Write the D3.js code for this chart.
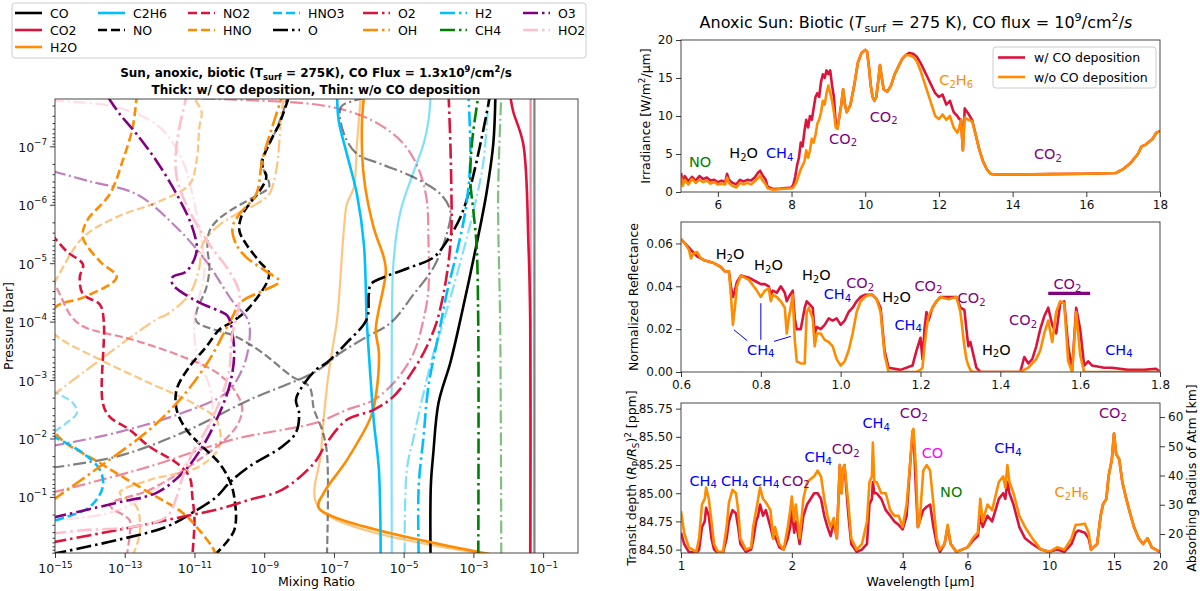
<!DOCTYPE html>
<html><head><meta charset="utf-8">
<script src="https://cdn.jsdelivr.net/npm/d3@7"></script>
<style>
body{margin:0;background:#fff}
svg text{font-family:"DejaVu Sans",sans-serif}
</style>
</head><body>
<svg id="c" width="1200" height="591" xmlns="http://www.w3.org/2000/svg"></svg>
<script>
// ===================== LEFT PANEL DATA: [log10 mixing ratio, log10 pressure (bar)] =====================
const speciesNames = ["CO","CO2","H2O","C2H6","NO","NO2","HNO","HNO3","O","O2","OH","H2","CH4","O3","HO2"];

const CO_w   = [[-4.23,0],[-4.22,-1.2],[-4.15,-1.75],[-4.0,-2.61],[-3.66,-3.3],[-3.37,-4.04],[-2.91,-5.32],[-2.63,-6.18],[-2.43,-7.04],[-2.37,-7.85]];
const CO_wo  = [[-1.25,0],[-1.25,-7.85]];
const CO2_w  = [[-1.37,0],[-1.37,-4.0],[-1.42,-5.3],[-1.57,-7.04],[-1.86,-7.6],[-1.94,-7.85]];
const CO2_wo = [[-1.36,0],[-1.36,-7.85]];
const H2O_w  = [[-2.34,0],[-7.43,-0.81],[-7.29,-1.07],[-6.63,-1.63],[-5.94,-2.37],[-5.8,-2.72],[-5.71,-3.47],[-5.8,-3.86],[-5.51,-4.86],[-5.57,-5.1],[-5.86,-5.61],[-6.14,-6.47],[-6.2,-7.33],[-6.14,-7.85]];
const H2O_wo = [[-2.34,0],[-7.43,-0.81],[-7.37,-1.76],[-7.2,-2.89],[-7.06,-3.47],[-6.91,-4.04],[-6.71,-5.61],[-6.63,-6.01],[-6.43,-6.3],[-6.34,-7.04],[-6.23,-7.85]];
const C2H6_w = [[-5.66,0],[-5.71,-1.46],[-5.86,-2.32],[-6.0,-3.47],[-6.06,-4.04],[-6.14,-5.32],[-6.34,-6.18],[-6.63,-6.87],[-6.86,-7.43],[-6.91,-7.85]];
const C2H6_wo= [[-5.34,0],[-5.34,-3.9],[-5.29,-5.03],[-5.09,-5.89],[-4.71,-6.57],[-4.43,-7.04],[-4.29,-7.43],[-4.23,-7.85]];
const NO_w   = [[-10.43,0],[-9.86,-0.43],[-9.86,-1.0],[-10.0,-1.29],[-10.29,-1.58],[-10.77,-1.86],[-11.23,-2.15],[-11.51,-2.49],[-11.51,-2.84],[-11.14,-3.23],[-10.66,-3.57],[-10.29,-3.86],[-9.91,-4.0],[-9.43,-4.24],[-8.86,-4.81],[-9.14,-5.03],[-9.51,-5.32],[-9.71,-5.55],[-9.66,-5.79],[-9.43,-6.01],[-9.14,-6.23],[-8.94,-6.47],[-9.06,-6.7],[-8.86,-7.04],[-8.57,-7.38],[-8.29,-7.85]];
const NO_wo  = [[-7.2,0],[-7.2,-1.75],[-7.34,-2.15],[-7.57,-2.49],[-7.71,-2.89],[-8.2,-3.06],[-9.06,-3.47],[-9.8,-3.74],[-10.94,-4.0],[-10.94,-4.17],[-10.66,-4.58],[-10.57,-4.93],[-10.63,-5.27],[-10.57,-5.55],[-10.37,-5.72],[-10.0,-5.89],[-9.51,-6.06],[-9.14,-6.18],[-8.86,-6.3],[-8.94,-6.52],[-9.09,-6.7],[-8.71,-7.21],[-8.43,-7.64],[-8.34,-7.85]];
const NO2_w  = [[-15.1,-5.5],[-14.66,-5.2],[-14.2,-4.98],[-14.29,-4.76],[-14.2,-4.47],[-13.71,-4.29],[-13.6,-4.0],[-13.63,-2.61],[-13.43,-2.37],[-12.86,-2.15],[-12.29,-1.86],[-11.51,-1.58],[-11.14,-1.34],[-11.06,-1.0],[-11.0,-0.61],[-11.06,0]];
const NO2_wo = [[-15.1,-4.75],[-14.86,-4.47],[-14.57,-4.12],[-14.2,-3.92],[-12.77,-3.69],[-11.34,-3.4],[-10.37,-3.13],[-9.8,-2.78],[-9.63,-2.49],[-9.86,-2.15],[-10.86,-1.64],[-12.29,-1.12],[-13.43,-0.86],[-12.86,-0.6],[-12.86,-0.35],[-12.94,0]];
const HNO_w  = [[-10.37,0],[-10.49,-0.14],[-10.86,-0.43],[-11.34,-0.73],[-12.29,-1.07],[-13.71,-1.58],[-15.0,-2.1],[-15.6,-3.2],[-15.0,-4.24],[-14.2,-4.41],[-13.23,-4.76],[-13.71,-5.03],[-14.2,-5.44],[-14.09,-5.72],[-13.43,-6.18],[-13.06,-6.75],[-12.77,-7.33],[-12.66,-7.85]];
const HNO_wo = [[-12.77,0],[-12.57,-0.38],[-12.66,-0.83],[-13.14,-1.07],[-12.29,-1.29],[-10.86,-1.52],[-10.29,-1.86],[-10.37,-2.32],[-11.06,-2.61],[-12.29,-2.95],[-13.71,-3.35],[-15.0,-3.78],[-15.5,-4.2],[-15.0,-4.69],[-14.2,-5.44],[-13.23,-5.79],[-12.0,-6.06],[-11.14,-6.35],[-10.94,-6.75],[-10.86,-7.33],[-10.8,-7.6],[-11.06,-7.85]];
const HNO3_w = [[-15.1,-2.05],[-14.2,-1.75],[-13.71,-1.46],[-13.63,-1.17],[-14.0,-0.83],[-14.66,-0.66],[-15.1,-0.58]];
const HNO3_wo= [[-15.1,-2.82],[-14.49,-2.61],[-14.37,-2.44],[-14.66,-2.27],[-15.1,-2.08]];
const O_w    = [[-15.1,-0.02],[-13.23,-0.26],[-11.8,-0.49],[-11.06,-0.73],[-10.37,-1.0],[-10.0,-1.24],[-9.43,-1.52],[-8.49,-1.86],[-8.09,-2.1],[-8.0,-2.44],[-8.09,-2.66],[-7.91,-2.89],[-7.51,-3.18],[-7.2,-3.3],[-6.63,-3.64],[-6.06,-4.04],[-6.0,-4.47],[-5.94,-4.64],[-5.57,-4.76],[-4.8,-4.93],[-4.14,-5.1],[-3.77,-5.37],[-3.37,-5.79],[-3.09,-6.3],[-2.8,-7.04],[-2.57,-7.72],[-2.53,-7.85]];
const O_wo   = [[-15.1,-1.5],[-13.23,-1.69],[-11.34,-2.1],[-9.43,-2.66],[-7.51,-3.15],[-6.8,-3.47],[-6.06,-3.74],[-5.37,-3.98],[-4.71,-4.47],[-4.14,-4.93],[-3.77,-5.49],[-3.66,-5.89],[-3.94,-6.18],[-4.71,-6.47],[-5.66,-6.7],[-6.34,-6.87],[-6.71,-7.21],[-6.8,-7.67],[-6.43,-7.78],[-6.0,-7.85]];
const O2_w   = [[-15.1,-0.22],[-13.23,-0.43],[-11.34,-0.66],[-10.37,-0.78],[-9.43,-0.95],[-8.49,-1.12],[-7.57,-1.58],[-7.2,-1.93],[-6.63,-2.32],[-5.86,-2.49],[-5.29,-2.72],[-4.71,-3.18],[-4.34,-3.57],[-4.06,-3.98],[-3.86,-4.47],[-3.71,-5.03],[-3.63,-5.61],[-3.63,-6.18],[-3.66,-7.04],[-3.71,-7.85]];
const O2_wo  = [[-15.1,-1.07],[-12.29,-1.52],[-9.91,-1.98],[-7.51,-2.27],[-6.63,-2.49],[-5.86,-2.66],[-5.2,-3.01],[-4.71,-3.47],[-4.43,-4.04],[-4.29,-4.55],[-4.29,-5.41],[-4.34,-6.09],[-4.57,-6.61],[-5.0,-7.04],[-5.71,-7.38],[-6.57,-7.6],[-7.57,-7.72],[-9.43,-7.79],[-10.37,-7.81],[-11.0,-7.82]];
const OH_w   = [[-15.1,-0.93],[-13.71,-1.52],[-12.29,-2.15],[-11.34,-2.72],[-10.57,-3.35],[-10.0,-3.98],[-9.63,-4.35],[-9.06,-4.52],[-8.57,-4.69],[-8.94,-4.86],[-9.51,-5.1],[-9.8,-5.32],[-9.91,-5.61],[-9.71,-5.84],[-9.23,-6.18],[-9.06,-6.75],[-8.77,-7.33],[-8.49,-7.85]];
const OH_wo  = [[-15.1,-2.72],[-12.09,-4.04],[-11.8,-4.12],[-11.14,-4.47],[-10.86,-4.93],[-10.77,-5.32],[-10.37,-5.61],[-9.8,-5.84],[-9.23,-6.01],[-8.86,-6.18],[-8.66,-6.57],[-8.57,-7.04],[-8.51,-7.55],[-8.43,-7.85]];
const H2_w   = [[-4.57,0],[-4.57,-1.17],[-4.43,-2.03],[-4.29,-2.89],[-3.94,-3.95],[-3.77,-4.47],[-3.49,-5.15],[-3.23,-5.89],[-3.09,-6.75],[-3.14,-7.85]];
const H2_wo  = [[-4.97,0],[-4.91,-1.46],[-4.71,-2.03],[-4.43,-2.78],[-4.14,-3.47],[-3.86,-4.0],[-3.37,-5.03],[-3.0,-5.89],[-2.71,-6.75],[-2.57,-7.85]];
const CH4_w  = [[-2.86,0],[-2.86,-3.9],[-2.91,-5.32],[-3.0,-5.89],[-3.09,-6.44],[-3.03,-7.12],[-2.86,-7.85]];
const CH4_wo = [[-2.2,0],[-2.23,-3.86],[-2.29,-6.18],[-2.2,-7.85]];
const O3_w   = [[-15.1,-0.64],[-13.23,-0.9],[-12.09,-1.07],[-11.34,-1.41],[-10.77,-1.86],[-10.37,-2.32],[-10.0,-2.89],[-9.86,-3.47],[-10.0,-4.04],[-10.09,-4.12],[-10.94,-4.35],[-11.63,-4.64],[-11.63,-4.76],[-11.23,-4.86],[-10.94,-5.2],[-11.06,-5.61],[-11.51,-6.18],[-12.09,-6.75],[-12.66,-7.21],[-13.14,-7.55],[-13.49,-7.85]];
const O3_wo  = [[-15.1,-1.87],[-13.23,-2.1],[-11.34,-2.44],[-10.09,-2.78],[-9.63,-3.18],[-9.43,-3.64],[-9.46,-4.02],[-9.91,-4.35],[-10.66,-5.03],[-11.51,-5.61],[-12.66,-6.18],[-14.0,-6.4],[-15.1,-6.58]];
const HO2_w  = [[-15.1,-0.37],[-14.2,-0.43],[-12.77,-0.49],[-11.8,-0.66],[-11.51,-1.0],[-11.34,-1.34],[-11.06,-1.75],[-10.66,-2.15],[-10.29,-2.61],[-10.0,-3.18],[-9.94,-3.69],[-9.71,-4.47],[-10.0,-4.86],[-10.57,-5.32],[-11.14,-5.89],[-11.51,-6.47],[-11.51,-7.04],[-11.23,-7.85]];
const HO2_wo = [[-15.1,-7.78],[-13.23,-7.67],[-12.0,-7.33],[-11.34,-6.75],[-11.06,-6.18],[-10.86,-5.58],[-10.71,-4.9],[-11.0,-4.04],[-10.94,-3.47],[-10.57,-2.89],[-10.49,-2.44],[-10.86,-1.86],[-11.43,-1.46],[-13.14,-0.78],[-15.1,-0.6]];

const profilesWith    = [CO_w,CO2_w,H2O_w,C2H6_w,NO_w,NO2_w,HNO_w,HNO3_w,O_w,O2_w,OH_w,H2_w,CH4_w,O3_w,HO2_w];
const profilesWithout = [CO_wo,CO2_wo,H2O_wo,C2H6_wo,NO_wo,NO2_wo,HNO_wo,HNO3_wo,O_wo,O2_wo,OH_wo,H2_wo,CH4_wo,O3_wo,HO2_wo];
const mixTickExp = [-15,-13,-11,-9,-7,-5,-3,-1];
const presTickExp = [-7,-6,-5,-4,-3,-2,-1];

// ===================== RIGHT PANEL DATA =====================
// Irradiance: [wavelength um, w/ CO deposition, w/o CO deposition]
const irrWl   = [5.0,5.05,5.1,5.2,5.3,5.4,5.5,5.6,5.7,5.8,5.9,6.0,6.1,6.2,6.25,6.3,6.4,6.5,6.6,6.7,6.8,6.9,7.0,7.1,7.15,7.2,7.3,7.35,7.5,7.7,8.0,8.05,8.1,8.15,8.2,8.25,8.3,8.35,8.4,8.45,8.5,8.55,8.6,8.65,8.7,8.75,8.8,8.85,8.9,8.95,9.0,9.05,9.1,9.15,9.2,9.25,9.3,9.35,9.4,9.45,9.5,9.6,9.7,9.8,9.9,10.0,10.05,10.1,10.15,10.2,10.25,10.3,10.35,10.4,10.45,10.5,10.6,10.7,10.8,10.9,11.0,11.1,11.2,11.3,11.4,11.5,11.6,11.7,11.8,11.9,12.0,12.1,12.2,12.3,12.4,12.5,12.55,12.6,12.65,12.7,12.8,12.9,13.0,13.1,13.2,13.3,13.4,13.5,14.0,15.0,16.0,16.8,17.0,17.2,17.4,17.5,17.6,17.8,17.9,18.0];
const irrWith = [2.5,1.2,2.1,1.4,2.0,1.5,2.1,1.7,1.9,1.5,1.6,1.3,1.5,1.3,2.4,1.6,1.2,1.0,1.6,1.4,1.6,1.5,1.9,2.6,2.8,2.3,1.6,0.7,0.4,0.45,0.6,1.0,2.0,3.5,4.5,6.5,6.0,8.0,9.5,8.5,10.0,9.5,11.0,12.5,13.0,12.5,14.5,15.5,15.0,16.0,15.5,16.0,14.0,12.5,9.0,8.5,10.0,11.5,13.5,11.5,10.5,11.5,14.0,17.0,18.3,18.7,18.5,16.5,14.0,12.5,12.0,12.5,14.5,16.7,15.0,13.5,13.2,14.0,15.5,16.5,17.5,18.0,18.3,18.2,17.8,17.0,16.0,15.0,14.0,13.0,12.5,12.8,11.5,12.0,10.5,10.0,9.6,9.5,5.5,11.0,10.3,9.5,7.5,5.5,4.0,3.0,2.4,2.3,2.3,2.35,2.4,2.5,3.0,3.8,5.0,6.0,6.2,7.0,7.8,8.0];
const irrWithout = [2.0,0.8,1.6,1.0,1.7,1.2,1.6,1.3,1.5,1.1,1.3,1.0,1.1,1.0,1.9,1.2,0.8,0.6,1.2,1.0,1.2,1.0,1.4,1.9,2.2,1.6,1.0,0.5,0.3,0.4,0.5,0.6,1.0,1.5,2.3,3.0,3.5,4.0,5.5,4.5,5.5,7.0,6.5,7.5,9.0,9.5,10.5,12.0,11.5,13.0,14.0,13.0,12.0,10.5,8.5,8.3,10.0,11.5,13.5,11.5,10.5,11.5,14.0,17.0,18.3,18.7,18.5,16.5,14.0,12.5,12.0,12.5,14.5,16.7,15.0,13.5,13.2,14.0,15.5,16.5,17.5,18.0,18.0,17.8,17.2,16.0,14.5,13.0,11.5,10.0,9.6,10.2,9.5,10.0,8.5,7.8,8.5,9.5,5.5,9.8,9.5,9.3,7.5,5.5,4.0,3.0,2.4,2.3,2.3,2.35,2.4,2.5,3.0,3.8,5.0,6.0,6.2,7.0,7.8,8.0];

// Reflectance
const refWl = [0.600,0.610,0.620,0.625,0.630,0.640,0.650,0.660,0.680,0.700,0.710,0.720,0.725,0.730,0.735,0.740,0.750,0.770,0.790,0.800,0.810,0.820,0.825,0.830,0.840,0.850,0.860,0.865,0.870,0.880,0.885,0.890,0.900,0.910,0.915,0.920,0.930,0.935,0.940,0.950,0.960,0.970,0.980,0.990,1.000,1.010,1.020,1.030,1.040,1.050,1.060,1.070,1.080,1.090,1.100,1.105,1.110,1.120,1.150,1.180,1.190,1.200,1.205,1.210,1.215,1.220,1.230,1.240,1.250,1.270,1.290,1.300,1.310,1.315,1.320,1.325,1.330,1.340,1.350,1.450,1.460,1.470,1.480,1.490,1.500,1.510,1.520,1.530,1.540,1.550,1.560,1.570,1.580,1.590,1.600,1.610,1.620,1.630,1.660,1.680,1.720,1.760,1.790,1.800];
const refWith = [.062,.060,.058,.057,.056,.054,.053,.052,.051,.049,.047,.047,.040,.035,.038,.042,.045,.044,.042,.041,.041,.040,.036,.038,.037,.040,.037,.033,.035,.038,.025,.020,.020,.030,.033,.032,.030,.018,.021,.020,.022,.025,.024,.025,.022,.024,.028,.030,.033,.035,.036,.036,.036,.034,.030,.020,.010,.002,.001,.003,.010,.016,.006,.020,.028,.024,.030,.033,.035,.035,.035,.030,.029,.020,.012,.014,.010,.002,.000,.000,.007,.004,.006,.012,.020,.026,.030,.022,.018,.032,.033,.012,.001,.030,.020,.003,.005,.003,.002,.002,.001,.001,.0015,.000];
const refWithout = [.062,.060,.057,.053,.055,.056,.053,.052,.051,.049,.047,.047,.036,.022,.030,.040,.045,.043,.038,.035,.038,.039,.033,.036,.035,.033,.030,.018,.025,.036,.015,.005,.004,.004,.028,.030,.025,.012,.018,.018,.015,.014,.012,.006,.003,.005,.010,.018,.028,.033,.035,.036,.036,.034,.028,.018,.008,.000,.000,.000,.000,.001,.002,.012,.020,.026,.030,.033,.035,.034,.035,.028,.012,.006,.003,.001,.000,.000,.000,.000,.001,.002,.004,.006,.010,.018,.024,.014,.028,.033,.032,.005,.000,.028,.008,.000,.000,.000,.000,.000,.000,.000,.000,.000];

// Transit depth (ppm)
const trWl = [1.00,1.02,1.05,1.10,1.12,1.14,1.16,1.17,1.19,1.21,1.23,1.26,1.30,1.33,1.35,1.38,1.41,1.43,1.45,1.50,1.55,1.57,1.60,1.62,1.64,1.67,1.70,1.75,1.78,1.80,1.85,1.90,1.95,1.98,2.00,2.03,2.05,2.10,2.15,2.20,2.30,2.35,2.40,2.45,2.50,2.55,2.60,2.65,2.70,2.73,2.75,2.78,2.85,2.90,3.00,3.10,3.20,3.25,3.30,3.32,3.35,3.40,3.50,3.60,3.70,3.80,3.90,4.00,4.10,4.20,4.25,4.28,4.35,4.40,4.45,4.55,4.65,4.75,4.85,4.95,5.05,5.20,5.30,5.40,5.60,6.00,6.20,6.40,6.50,6.60,6.80,7.00,7.30,7.50,7.60,7.70,7.80,8.00,8.30,8.60,9.00,9.50,10.0,10.5,11.0,11.5,11.8,12.0,12.5,12.8,13.0,13.5,13.8,14.0,14.3,14.5,14.8,15.0,15.2,15.5,15.8,16.2,16.5,17.0,17.5,18.0,18.5,19.0,20.0];
const trWith = [84.65,84.55,84.48,84.47,84.50,84.70,84.75,84.87,84.80,84.60,84.50,84.47,84.47,84.60,84.75,84.85,84.82,84.70,84.55,84.48,84.50,84.58,84.75,84.80,84.90,84.80,84.85,84.70,84.60,84.62,84.52,84.50,84.60,84.70,84.85,84.65,84.75,84.55,84.80,84.90,85.00,85.00,84.95,84.80,84.70,84.62,84.75,84.60,85.25,85.00,85.20,85.25,84.80,84.55,84.48,84.50,84.55,84.90,84.95,85.10,85.00,85.00,84.95,84.85,84.80,84.75,84.72,84.68,84.80,85.30,85.50,85.55,85.00,84.70,84.75,84.85,84.88,84.90,84.70,84.55,84.48,84.55,84.70,84.55,84.48,84.52,84.58,84.62,84.80,84.70,84.80,84.75,84.95,85.00,84.95,85.10,85.00,84.90,84.70,84.60,84.55,84.50,84.48,84.50,84.48,84.55,84.65,84.67,84.65,84.60,84.50,84.55,84.80,84.90,84.95,85.15,85.30,85.53,85.35,85.30,85.10,84.95,84.85,84.70,84.60,84.55,84.60,84.52,84.48];
const trWithout = [84.84,84.65,84.52,84.48,84.60,84.90,84.95,85.05,84.95,84.75,84.55,84.48,84.48,84.70,84.92,85.03,85.00,84.85,84.60,84.50,84.52,84.70,84.85,84.95,85.05,84.95,84.92,84.85,84.60,84.70,84.55,84.50,84.70,84.85,84.97,84.75,84.90,84.60,84.95,85.10,85.15,85.20,85.15,84.95,84.80,84.70,84.78,84.60,85.25,85.00,85.20,85.25,84.90,84.60,84.50,84.55,84.75,85.10,85.15,85.45,85.10,85.10,85.00,85.00,84.85,84.80,84.80,84.70,84.90,85.30,85.55,85.57,85.20,84.70,84.75,85.20,85.25,85.20,84.90,84.60,84.50,84.55,84.72,84.55,84.48,84.52,84.60,84.65,84.95,84.75,84.90,84.85,85.10,85.15,85.05,85.25,85.10,85.00,84.80,84.70,84.60,84.50,84.48,84.52,84.50,84.60,84.72,84.72,84.73,84.65,84.50,84.55,84.80,84.90,84.95,85.15,85.30,85.53,85.35,85.30,85.10,84.95,84.85,84.70,84.60,84.55,84.60,84.52,84.48];

// annotations: [text, x, y]
const irrNotes = [["NO",5.52,3.95],["H_2O",6.7,5.1],["CH_4",7.68,5.1],["CO_2",9.4,7.0],["CO_2",10.5,9.9],["C_2H_6",12.47,14.7],["CO_2",14.96,5.0]];
const irrNoteColors = ["green","black","blue","purple","purple","darkorange","purple"];
const refNotes = [["H_2O",0.723,0.0549],["H_2O",0.819,0.0499],["H_2O",0.939,0.0453],["CH_4",0.992,0.0363],["CO_2",1.049,0.0414],["H_2O",1.14,0.0352],["CO_2",1.22,0.0403],["CO_2",1.328,0.0344],["CH_4",1.169,0.022],["CH_4",0.80,0.0104],["H_2O",1.39,0.0104],["CO_2",1.457,0.0243],["CO_2",1.568,0.041],["CH_4",1.697,0.0104]];
const refNoteColors = ["black","black","black","blue","purple","black","purple","purple","blue","blue","black","purple","purple","blue"];
const refConnectors = [[[0.766,0.0146],[0.7325,0.0197]],[[0.8,0.0150],[0.8,0.0321]],[[0.833,0.0143],[0.875,0.0166]]];
const refBar = [[1.52,0.0367],[1.625,0.0367]];
const trNotes = [["CH_4",1.149,85.11],["CH_4",1.399,85.11],["CH_4",1.699,85.11],["CO_2",2.05,85.11],["CH_4",2.36,85.32],["CO_2",2.80,85.39],["CH_4",3.39,85.62],["CO_2",4.29,85.71],["CO",4.82,85.36],["NO",5.42,85.01],["CH_4",7.73,85.40],["C_2H_6",11.5,85.01],["CO_2",14.9,85.71]];
const trNoteColors = ["blue","blue","blue","purple","blue","purple","blue","purple","magenta","green","blue","darkorange","purple"];

// ===================== STYLE =====================
const speciesColors = ["black","crimson","darkorange","deepskyblue","black","crimson","darkorange","deepskyblue","black","crimson","darkorange","deepskyblue","green","purple","pink"];
const speciesDash = ["s","s","s","s","d","d","d","d","dd","dd","dd","dd","dd","dd","dd"];
const dashThick = {s:null,d:"9,4",dd:"15,4,2.5,4"};
const dashThin = {s:null,d:"8,3.5",dd:"13,3.5,2,3.5"};

const svg = d3.select("#c");
const F = "DejaVu Sans, sans-serif";

function rich(t, str, fs) {
  const re = /\*\{([^}]*)\}|([_^])\{([^}]*)\}|([_^])(.)|([^_^*]+)/g;
  let m, cur = 0;
  while ((m = re.exec(str)) !== null) {
    let txt, target = 0, size = fs, ital = false;
    if (m[1] !== undefined) { txt = m[1]; ital = true; }
    else if (m[2]) { txt = m[3]; target = m[2] === "_" ? 0.25*fs : -0.42*fs; size = 0.7*fs; }
    else if (m[4]) { txt = m[5]; target = m[4] === "_" ? 0.25*fs : -0.42*fs; size = 0.7*fs; }
    else txt = m[6];
    const ts = t.append("tspan").text(txt).attr("font-size", size);
    const d = target - cur;
    if (Math.abs(d) > 1e-6) ts.attr("dy", d.toFixed(2));
    if (ital) ts.attr("font-style", "italic");
    cur = target;
  }
}
function label(g, str, x, y, fs, opts = {}) {
  const t = g.append("text").attr("x", x).attr("y", y).attr("font-size", fs)
    .attr("text-anchor", opts.anchor || "middle").attr("fill", opts.fill || "black");
  if (opts.bold) t.attr("font-weight", "bold");
  if (opts.rotate) t.attr("transform", `rotate(${opts.rotate},${x},${y})`);
  if (opts.central) t.attr("dominant-baseline", "central");
  rich(t, str, fs);
  return t;
}
function styleAxis(g, fs) {
  g.attr("font-family", F).attr("font-size", fs);
  g.select(".domain").remove();
  g.selectAll(".tick line").attr("stroke", "#222").attr("stroke-width", 0.9);
  g.selectAll(".tick text").attr("fill", "#111");
}
function frame(x0, x1, y0, y1) {
  svg.append("rect").attr("x", x0).attr("y", y0).attr("width", x1 - x0).attr("height", y1 - y0)
    .attr("fill", "none").attr("stroke", "#333").attr("stroke-width", 0.9);
}
function clip(id, x0, x1, y0, y1) {
  svg.append("clipPath").attr("id", id).append("rect").attr("x", x0).attr("y", y0).attr("width", x1 - x0).attr("height", y1 - y0);
}

// ===================== LEFT PANEL =====================
{
  const L = {x0: 55, x1: 578, y0: 99, y1: 553};
  const x = d3.scaleLog().domain([1e-15, 1]).range([L.x0, L.x1]);
  const y = d3.scaleLog().domain([Math.pow(10, -7.81), Math.pow(10, -0.04)]).range([L.y0, L.y1]);
  clip("clipL", L.x0, L.x1, L.y0, L.y1);
  const line = d3.line().x(d => x(Math.pow(10, d[0]))).y(d => y(Math.pow(10, d[1]))).curve(d3.curveCatmullRom.alpha(0.5));
  const gl = svg.append("g").attr("clip-path", "url(#clipL)");
  profilesWithout.forEach((p, i) => {
    gl.append("path").attr("d", line(p)).attr("fill", "none").attr("stroke", speciesColors[i])
      .attr("stroke-opacity", 0.5).attr("stroke-width", 2.2)
      .attr("stroke-dasharray", dashThin[speciesDash[i]]);
  });
  profilesWith.forEach((p, i) => {
    gl.append("path").attr("d", line(p)).attr("fill", "none").attr("stroke", speciesColors[i])
      .attr("stroke-width", 2.6).attr("stroke-dasharray", dashThick[speciesDash[i]]);
  });
  frame(L.x0, L.x1, L.y0, L.y1);
  const ax = svg.append("g").attr("transform", `translate(0,${L.y1})`)
    .call(d3.axisBottom(x).tickValues(mixTickExp.map(e => Math.pow(10, e))).tickSize(5).tickSizeOuter(0));
  styleAxis(ax, 12.5);
  ax.selectAll(".tick text").each(function(d) {
    const t = d3.select(this).text("").attr("dy", null).attr("y", 20); rich(t, "10^{\u2212" + Math.round(-Math.log10(d)) + "}", 12.5);
  });
  // minor y ticks
  const minorY = [];
  for (let e = -8; e <= -1; e++) for (let k = 2; k <= 9; k++) { const v = k * Math.pow(10, e); if (v > y.domain()[0] && v < y.domain()[1]) minorY.push(v); }
  const aym = svg.append("g").attr("transform", `translate(${L.x0},0)`)
    .call(d3.axisLeft(y).tickValues(minorY).tickSize(2.5).tickFormat(""));
  styleAxis(aym, 12);
  const ay = svg.append("g").attr("transform", `translate(${L.x0},0)`)
    .call(d3.axisLeft(y).tickValues(presTickExp.map(e => Math.pow(10, e))).tickSize(5).tickSizeOuter(0));
  styleAxis(ay, 12.5);
  ay.selectAll(".tick text").each(function(d) {
    const t = d3.select(this).text("").attr("dy", null).attr("dominant-baseline", "central"); rich(t, "10^{\u2212" + Math.round(-Math.log10(d)) + "}", 12.5);
  });
  label(svg, "Mixing Ratio", (L.x0 + L.x1) / 2, 586, 12.5);
  label(svg, "Pressure [bar]", 13, (L.y0 + L.y1) / 2, 12.5, {rotate: -90});
  label(svg, "Sun, anoxic, biotic (T_{surf} = 275K), CO Flux = 1.3x10^9/cm^2/s", 316, 77, 12, {bold: true});
  label(svg, "Thick: w/ CO deposition, Thin: w/o CO deposition", 316, 94, 12, {bold: true});

  // legend
  svg.append("rect").attr("x", 12).attr("y", 3).attr("width", 574).attr("height", 55).attr("rx", 3)
    .attr("fill", "white").attr("stroke", "#ccc").attr("stroke-width", 1);
  const colX = [15, 98, 188, 273, 363, 440, 523];
  const rowY = [13, 30, 47];
  let idx = 0;
  const perCol = [3, 2, 2, 2, 2, 2, 2];
  perCol.forEach((n, c) => {
    for (let r = 0; r < n; r++) {
      const i = idx++;
      svg.append("line").attr("x1", colX[c]).attr("x2", colX[c] + 27).attr("y1", rowY[r]).attr("y2", rowY[r])
        .attr("stroke", speciesColors[i]).attr("stroke-width", 2.6).attr("stroke-dasharray", dashThick[speciesDash[i]]);
      svg.append("text").attr("x", colX[c] + 35).attr("y", rowY[r]).attr("dominant-baseline", "central")
        .attr("font-size", 12.5).text(speciesNames[i]);
    }
  });
}

// ===================== RIGHT PANELS =====================
const RX0 = 681, RX1 = 1160;
function seriesPath(g, xs, ys, xS, yS, color) {
  const ln = d3.line().x((d, i) => xS(xs[i])).y(d => yS(d));
  g.append("path").attr("d", ln(ys)).attr("fill", "none").attr("stroke", color).attr("stroke-width", 2.6).attr("stroke-linejoin", "round");
}
function notes(g, arr, colors, xS, yS, fs) {
  arr.forEach((n, i) => label(g, n[0], xS(n[1]), yS(n[2]), fs, {fill: colors[i], central: true}));
}

// --- top: irradiance ---
{
  const T = {y0: 40, y1: 192};
  const x = d3.scaleLinear().domain([5, 18]).range([RX0, RX1]);
  const y = d3.scaleLinear().domain([0, 20]).range([T.y1, T.y0]);
  clip("clipT", RX0, RX1, T.y0, T.y1);
  const g = svg.append("g").attr("clip-path", "url(#clipT)");
  seriesPath(g, irrWl, irrWith, x, y, "crimson");
  seriesPath(g, irrWl, irrWithout, x, y, "darkorange");
  frame(RX0, RX1, T.y0, T.y1);
  const ax = svg.append("g").attr("transform", `translate(0,${T.y1})`).call(d3.axisBottom(x).tickValues([6,8,10,12,14,16,18]).tickSize(5).tickSizeOuter(0));
  styleAxis(ax, 12);
  const ay = svg.append("g").attr("transform", `translate(${RX0},0)`).call(d3.axisLeft(y).tickValues([0,5,10,15,20]).tickSize(5).tickSizeOuter(0));
  styleAxis(ay, 12);
  notes(svg, irrNotes, irrNoteColors, x, y, 14.5);
  label(svg, "Irradiance [W/m^2/\u03bcm]", 650, (T.y0 + T.y1) / 2, 12.5, {rotate: -90});
  label(svg, "Anoxic Sun: Biotic (*{T}_{surf} = 275 K), CO flux = 10^9/cm^2/*{s}", 916, 28, 16);
  // legend
  svg.append("rect").attr("x", 993).attr("y", 47).attr("width", 163).attr("height", 41).attr("rx", 3)
    .attr("fill", "white").attr("fill-opacity", 0.85).attr("stroke", "#ccc");
  [["w/ CO deposition", "crimson", 57.5], ["w/o CO deposition", "darkorange", 77]].forEach(e => {
    svg.append("line").attr("x1", 998).attr("x2", 1025).attr("y1", e[2]).attr("y2", e[2]).attr("stroke", e[1]).attr("stroke-width", 2.6);
    svg.append("text").attr("x", 1034).attr("y", e[2]).attr("dominant-baseline", "central").attr("font-size", 12.5).text(e[0]);
  });
}

// --- middle: reflectance ---
{
  const M = {y0: 222, y1: 372};
  const x = d3.scaleLinear().domain([0.6, 1.8]).range([RX0, RX1]);
  const y = d3.scaleLinear().domain([0, 0.07]).range([M.y1, M.y0]);
  clip("clipM", RX0, RX1, M.y0, M.y1);
  const g = svg.append("g").attr("clip-path", "url(#clipM)");
  seriesPath(g, refWl, refWith, x, y, "crimson");
  seriesPath(g, refWl, refWithout, x, y, "darkorange");
  frame(RX0, RX1, M.y0, M.y1);
  const ax = svg.append("g").attr("transform", `translate(0,${M.y1})`).call(d3.axisBottom(x).tickValues([0.6,0.8,1.0,1.2,1.4,1.6,1.8]).tickFormat(d3.format(".1f")).tickSize(5).tickSizeOuter(0));
  styleAxis(ax, 12);
  const ay = svg.append("g").attr("transform", `translate(${RX0},0)`).call(d3.axisLeft(y).tickValues([0,0.02,0.04,0.06]).tickFormat(d3.format(".2f")).tickSize(5).tickSizeOuter(0));
  styleAxis(ay, 12);
  refConnectors.forEach(c => svg.append("line").attr("x1", x(c[0][0])).attr("y1", y(c[0][1])).attr("x2", x(c[1][0])).attr("y2", y(c[1][1])).attr("stroke", "blue").attr("stroke-width", 1));
  svg.append("line").attr("x1", x(refBar[0][0])).attr("y1", y(refBar[0][1])).attr("x2", x(refBar[1][0])).attr("y2", y(refBar[1][1])).attr("stroke", "purple").attr("stroke-width", 3.2);
  notes(svg, refNotes, refNoteColors, x, y, 14.5);
  label(svg, "Normalized Reflectance", 638, (M.y0 + M.y1) / 2, 12.5, {rotate: -90});
}

// --- bottom: transit ---
{
  const B = {y0: 403, y1: 553};
  const x = d3.scaleLog().domain([1, 20]).range([RX0, RX1]);
  const y = d3.scaleLinear().domain([84.47, 85.8]).range([B.y1, B.y0]);
  const yR = d3.scaleLinear().domain([13.5, 64.8]).range([B.y1, B.y0]);
  clip("clipB", RX0, RX1, B.y0, B.y1);
  const g = svg.append("g").attr("clip-path", "url(#clipB)");
  seriesPath(g, trWl, trWith, x, y, "crimson");
  seriesPath(g, trWl, trWithout, x, y, "darkorange");
  frame(RX0, RX1, B.y0, B.y1);
  const ax = svg.append("g").attr("transform", `translate(0,${B.y1})`).call(d3.axisBottom(x).tickValues([1,2,4,6,10,15,20]).tickFormat(d3.format("d")).tickSize(5).tickSizeOuter(0));
  styleAxis(ax, 12);
  const ay = svg.append("g").attr("transform", `translate(${RX0},0)`).call(d3.axisLeft(y).tickValues([84.5,84.75,85,85.25,85.5,85.75]).tickFormat(d3.format(".2f")).tickSize(5).tickSizeOuter(0));
  styleAxis(ay, 12);
  const ayr = svg.append("g").attr("transform", `translate(${RX1},0)`).call(d3.axisRight(yR).tickValues([20,30,40,50,60]).tickSize(5).tickSizeOuter(0));
  styleAxis(ayr, 12);
  notes(svg, trNotes, trNoteColors, x, y, 14.5);
  label(svg, "Wavelength [\u03bcm]", (RX0 + RX1) / 2, 586, 12.5);
  label(svg, "Transit depth (*{R}_{P}/*{R}_{S})^2 [ppm]", 636, (B.y0 + B.y1) / 2, 12.5, {rotate: -90});
  label(svg, "Absorbing Radius of Atm [km]", 1196, (B.y0 + B.y1) / 2, 12.5, {rotate: -90});
}
</script>
</body></html>
